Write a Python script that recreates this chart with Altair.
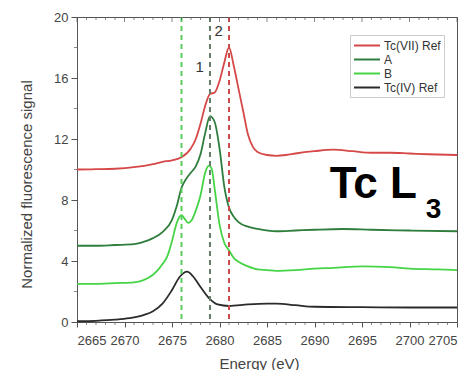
import altair as alt
import pandas as pd

# ---- data ----
series_names = ["Tc(VII) Ref", "A", "B", "Tc(IV) Ref"]
series_colors = ["#d64848", "#2f7d3c", "#46d446", "#2b2b2b"]

e_vii = [2665, 2667, 2669, 2671, 2673, 2674, 2675, 2676, 2677, 2677.5, 2678, 2678.5, 2679, 2679.5,
         2680, 2680.5, 2681, 2681.5, 2682, 2682.5, 2683, 2683.5, 2684, 2685, 2686, 2687, 2688,
         2690, 2692, 2694, 2696, 2698, 2700, 2702, 2705]
s_vii = [10.0, 10.02, 10.05, 10.15, 10.35, 10.5, 10.6, 10.8, 11.4, 12.0, 13.0, 14.2, 14.95, 15.05,
         15.8, 17.0, 18.0, 16.8, 15.3, 13.8, 12.3, 11.5, 11.15, 10.95, 10.9, 10.95, 11.05,
         11.2, 11.3, 11.2, 11.1, 11.1, 11.05, 11.0, 10.95]

e_a = [2665, 2667, 2669, 2671, 2672, 2673, 2674, 2675, 2675.5, 2676, 2676.5, 2677, 2677.5, 2678,
       2678.5, 2679, 2679.5, 2680, 2680.5, 2681, 2681.5, 2682, 2683, 2684, 2686, 2688, 2690,
       2693, 2696, 2700, 2705]
s_a = [5.0, 5.0, 5.05, 5.1, 5.25, 5.5, 5.9, 6.7, 7.6, 8.8, 9.4, 9.8, 10.2, 11.0,
       12.4, 13.5, 13.1, 11.4, 8.9, 7.5, 6.9, 6.55, 6.25, 6.1, 5.95, 6.0, 6.05,
       6.1, 6.05, 6.0, 5.95]

e_b = [2665, 2667, 2669, 2671, 2672, 2673, 2673.5, 2674, 2674.5, 2675, 2675.5, 2676, 2676.3,
       2676.7, 2677.1, 2677.5, 2678, 2678.5, 2678.9, 2679.2, 2679.5, 2680, 2680.5, 2681, 2681.5,
       2682, 2683, 2684, 2685, 2686, 2688, 2690, 2692, 2695, 2698, 2700, 2703, 2705]
s_b = [2.5, 2.5, 2.55, 2.6, 2.75, 3.1, 3.4, 3.8, 4.3, 5.3, 6.5, 7.0, 6.8,
       6.5, 6.7, 7.3, 8.3, 9.8, 10.25, 10.0, 8.7, 6.4, 5.2, 4.7, 4.2,
       3.95, 3.65, 3.45, 3.4, 3.35, 3.4, 3.5, 3.55, 3.65, 3.6, 3.5, 3.45, 3.4]

e_iv = [2665, 2667, 2669, 2670.5, 2672, 2673, 2674, 2675, 2675.8, 2676.6, 2677.2, 2678, 2679,
        2679.8, 2681, 2683, 2685, 2686, 2688, 2690, 2695, 2700, 2705]
s_iv = [0.05, 0.08, 0.15, 0.25, 0.45, 0.7, 1.2, 2.1, 2.95, 3.3, 3.0, 2.3, 1.5,
        1.15, 1.05, 1.15, 1.2, 1.2, 1.1, 1.0, 0.97, 0.95, 0.95]

marker_energies = [2676, 2679, 2681]
marker_colors = ["#5ccc5c", "#647e6a", "#cc4a4a"]

peak_labels = ["1", "2"]
peak_label_e = [2677.9, 2679.9]
peak_label_s = [16.7, 19.1]

x_major = list(range(2665, 2706, 5))
x_minor = [v for v in range(2665, 2706) if v % 5 != 0]
y_major = list(range(0, 21, 4))
y_minor = list(range(2, 20, 4))

W, H = 380, 305
FONT = "Liberation Sans"

rows = []
for name, es, ss in zip(series_names, [e_vii, e_a, e_b, e_iv], [s_vii, s_a, s_b, s_iv]):
    for e, s in zip(es, ss):
        rows.append({"E": e, "S": s, "series": name})
df = pd.DataFrame(rows)

xscale = alt.Scale(domain=[2665, 2705], nice=False, zero=False)
yscale = alt.Scale(domain=[0, 20], nice=False, zero=False)

x_axis = alt.Axis(values=x_major, title="Energy (eV)", grid=False, tickSize=5,
                  labelPadding=7, format="d", titleX=182, titleY=46,
                  titleBaseline="alphabetic")
y_axis = alt.Axis(values=y_major, title="Normalized fluorescence signal", grid=False,
                  tickSize=6, labelPadding=3, titleX=-51, titleY=167,
                  titleBaseline="middle", titleAngle=270)

X = alt.X("E:Q", scale=xscale, axis=x_axis)
Y = alt.Y("S:Q", scale=yscale, axis=y_axis)

lines = alt.Chart(df).mark_line(strokeWidth=1.8, interpolate="monotone").encode(
    x=X,
    y=Y,
    color=alt.Color("series:N",
                    scale=alt.Scale(domain=series_names, range=series_colors),
                    sort=series_names,
                    legend=alt.Legend(title=None, orient="none", legendX=273, legendY=18,
                                      symbolType="M-1,0H3", symbolSize=169,
                                      symbolStrokeWidth=2, symbolFillColor="transparent",
                                      labelFontSize=12,
                                      labelFont=FONT, labelColor="#333",
                                      fillColor="white", strokeColor="#cccccc",
                                      padding=3, rowPadding=0, labelOffset=16)),
    order=alt.Order("E:Q"),
)

mk = pd.DataFrame({"E": marker_energies, "c": marker_colors})
rules = alt.Chart(mk).mark_rule(strokeDash=[5, 4], strokeWidth=2).encode(
    x=X,
    color=alt.Color("c:N", scale=None),
)

pl = pd.DataFrame({"E": peak_label_e, "S": peak_label_s, "t": peak_labels})
plabels = alt.Chart(pl).mark_text(fontSize=15, font=FONT, color="#333").encode(
    x=X, y=Y, text="t:N",
)

ann_main = pd.DataFrame({"E": [2691.6], "S": [8.1], "t": ["Tc L"]})
ann_sub = pd.DataFrame({"E": [2701.7], "S": [6.8], "t": ["3"]})
main_txt = alt.Chart(ann_main).mark_text(fontSize=44, fontWeight="bold", font=FONT,
                                         align="left", baseline="alphabetic",
                                         color="black").encode(x=X, y=Y, text="t:N")
sub_txt = alt.Chart(ann_sub).mark_text(fontSize=28, fontWeight="bold", font=FONT,
                                       align="left", baseline="alphabetic",
                                       color="black").encode(x=X, y=Y, text="t:N")

tick_color = "#555"
xmin_df = pd.DataFrame({"E": x_minor})
xmaj_df = pd.DataFrame({"E": x_major})
ymin_df = pd.DataFrame({"S": y_minor})

bot_minor = alt.Chart(xmin_df).mark_tick(orient="vertical", size=3, thickness=1,
                                         color=tick_color).encode(x=X, y=alt.value(H + 1.5))
top_minor = alt.Chart(xmin_df).mark_tick(orient="vertical", size=3, thickness=1,
                                         color=tick_color).encode(x=X, y=alt.value(1.5))
top_major = alt.Chart(xmaj_df).mark_tick(orient="vertical", size=5, thickness=1,
                                         color=tick_color).encode(x=X, y=alt.value(2.5))
left_minor = alt.Chart(ymin_df).mark_tick(orient="horizontal", size=3, thickness=1,
                                          color=tick_color).encode(y=Y, x=alt.value(-1.5))

chart = alt.layer(lines, rules, plabels, main_txt, sub_txt,
                  bot_minor, top_minor, top_major, left_minor).properties(
    width=W, height=H,
    autosize=alt.AutoSizeParams(type="none"),
    padding={"left": 69, "top": 9, "right": 5, "bottom": 48},
    background="white",
).configure_view(stroke="#555", strokeWidth=1).configure_axis(
    labelFont=FONT, titleFont=FONT, labelFontSize=13, titleFontSize=15,
    labelColor="#444", titleColor="#444", titleFontWeight="normal",
    domainColor="#555", tickColor=tick_color,
)

chart.save("out.html", embed_options={"renderer": "svg", "actions": False})
